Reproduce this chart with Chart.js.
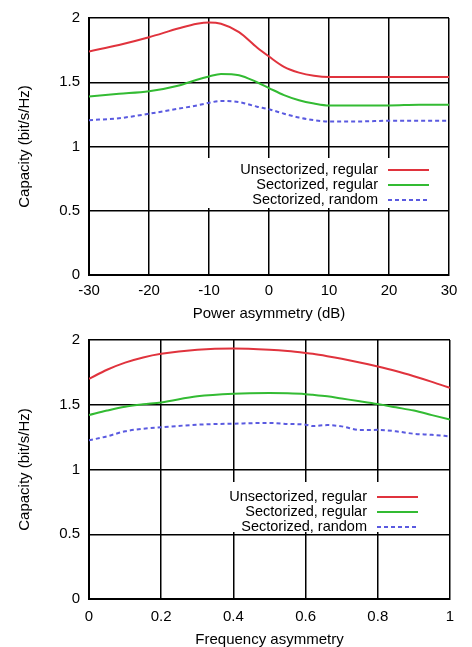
<!DOCTYPE html>
<html>
<head>
<meta charset="utf-8">
<script src="https://cdn.jsdelivr.net/npm/chart.js@4"></script>
<style>
  html, body { margin: 0; padding: 0; background: #fff; }
  body { width: 472px; height: 647px; position: relative; overflow: hidden; }
  .box { position: absolute; left: 0; width: 472px; }
</style>
</head>
<body>
<div class="box" style="top:0;height:322px"><canvas id="powerChart" width="472" height="322"></canvas></div>
<div class="box" style="top:322px;height:325px"><canvas id="freqChart" width="472" height="325"></canvas></div>
<script>
// series labels
const seriesNames = ["Unsectorized, regular", "Sectorized, regular", "Sectorized, random"];

// power asymmetry (dB)
const powerX = [-30, -25, -20, -15, -12, -10, -8, -5, -2, 0, 2.5, 5, 7.5, 10, 15, 20, 25, 30];
const powerUnsecReg = [1.74, 1.79, 1.85, 1.92, 1.955, 1.965, 1.955, 1.89, 1.77, 1.70, 1.62, 1.575, 1.55, 1.54, 1.54, 1.54, 1.54, 1.54];
const powerSecReg = [1.39, 1.41, 1.43, 1.475, 1.52, 1.545, 1.565, 1.555, 1.50, 1.455, 1.40, 1.36, 1.335, 1.32, 1.32, 1.32, 1.325, 1.325];
const powerSecRand = [1.205, 1.22, 1.255, 1.295, 1.32, 1.34, 1.355, 1.345, 1.31, 1.29, 1.255, 1.225, 1.205, 1.195, 1.195, 1.2, 1.2, 1.2];

// frequency asymmetry
const freqX = [0, 0.05, 0.1, 0.15, 0.2, 0.3, 0.4, 0.5, 0.55, 0.6, 0.62, 0.66, 0.7, 0.75, 0.8, 0.85, 0.9, 0.95, 1];
const freqUnsecReg = [1.70, 1.77, 1.825, 1.865, 1.893, 1.925, 1.935, 1.925, 1.915, 1.90, 1.893, 1.875, 1.855, 1.827, 1.795, 1.76, 1.72, 1.677, 1.63];
const freqSecReg = [1.42, 1.455, 1.485, 1.503, 1.518, 1.565, 1.585, 1.59, 1.588, 1.582, 1.577, 1.565, 1.548, 1.527, 1.505, 1.48, 1.455, 1.42, 1.385];
const freqSecRand = [1.225, 1.256, 1.295, 1.315, 1.326, 1.346, 1.354, 1.36, 1.352, 1.346, 1.335, 1.343, 1.333, 1.305, 1.306, 1.295, 1.276, 1.268, 1.256];

// tick labels
const yTicks = [0, 0.5, 1, 1.5, 2];
const powerTicks = [-30, -20, -10, 0, 10, 20, 30];
const freqTicks = [0, 0.2, 0.4, 0.6, 0.8, 1];

const FONT = "'Liberation Sans', Arial, sans-serif";
const INK = "#000";
const styles = [
  { color: "#e0333d", dash: [] },
  { color: "#33bb33", dash: [] },
  { color: "#5a5ae0", dash: [4, 3] }
];

function pts(xs, ys) {
  return xs.map((x, i) => ({ x: x, y: ys[i] }));
}

// gnuplot-like key: text on the left, sample line on the right, opaque box
const keyPlugin = {
  id: "gnuKey",
  afterDraw(chart) {
    const k = chart.options.plugins.gnuKey;
    if (!k) return;
    const ctx = chart.ctx;
    ctx.save();
    ctx.fillStyle = "#fff";
    ctx.fillRect(k.box[0], k.box[1], k.box[2], k.box[3]);
    ctx.font = k.size + "px " + FONT;
    ctx.textAlign = "right";
    ctx.textBaseline = "middle";
    chart.data.datasets.forEach((ds, i) => {
      const y = k.rows[i];
      ctx.fillStyle = INK;
      ctx.fillText(ds.label, k.textRight, y);
      ctx.strokeStyle = ds.borderColor;
      ctx.lineWidth = ds.borderWidth;
      ctx.setLineDash(ds.borderDash || []);
      ctx.beginPath();
      ctx.moveTo(k.line[0], y);
      ctx.lineTo(k.line[1], y);
      ctx.stroke();
      ctx.setLineDash([]);
    });
    ctx.restore();
  }
};

function makeChart(id, xs, series, xTicks, xTitle, cfg) {
  const datasets = series.map((ys, i) => ({
    label: seriesNames[i],
    data: pts(xs, ys),
    borderColor: styles[i].color,
    borderDash: styles[i].dash,
    borderWidth: 2,
    pointRadius: 0,
    fill: false,
    tension: 0.4,
    cubicInterpolationMode: "monotone"
  }));

  new Chart(document.getElementById(id), {
    type: "line",
    data: { datasets: datasets },
    plugins: [keyPlugin],
    options: {
      responsive: false,
      animation: false,
      layout: { padding: { left: 0, right: cfg.right, top: cfg.top, bottom: 0 } },
      plugins: {
        legend: { display: false },
        tooltip: { enabled: false },
        gnuKey: cfg.key
      },
      scales: {
        x: {
          type: "linear",
          min: xTicks[0],
          max: xTicks[xTicks.length - 1],
          afterBuildTicks: (s) => { s.ticks = xTicks.map((v) => ({ value: v })); },
          afterFit: (s) => { s.height = cfg.xHeight; },
          ticks: {
            autoSkip: false,
            maxRotation: 0,
            padding: cfg.tickPad,
            color: INK,
            font: { family: FONT, size: 15 },
            callback: (v) => String(v)
          },
          grid: { color: "#000", lineWidth: 1.5, drawTicks: false },
          border: { color: "#000", width: 2 },
          title: {
            display: true,
            text: xTitle,
            color: INK,
            font: { family: FONT, size: 15 },
            padding: { top: 0, bottom: cfg.xTitlePad }
          }
        },
        y: {
          min: 0,
          max: 2,
          afterBuildTicks: (s) => { s.ticks = yTicks.map((v) => ({ value: v })); },
          afterFit: (s) => { s.width = 89; },
          ticks: {
            padding: 9,
            color: INK,
            font: { family: FONT, size: 15 },
            callback: (v) => String(v)
          },
          grid: { color: "#000", lineWidth: 1.5, drawTicks: false },
          border: { color: "#000", width: 2 },
          title: {
            display: true,
            text: "Capacity (bit/s/Hz)",
            color: INK,
            font: { family: FONT, size: 15 },
            padding: { top: 16, bottom: 0 }
          }
        }
      }
    }
  });
}

makeChart("powerChart", powerX, [powerUnsecReg, powerSecReg, powerSecRand], powerTicks, "Power asymmetry (dB)", {
  right: 23, top: 15, xHeight: 47, xTitlePad: -1, tickPad: 7,
  key: { box: [200, 158, 240, 50], textRight: 378, line: [388, 429], rows: [170, 185, 200], size: 14.5 }
});

makeChart("freqChart", freqX, [freqUnsecReg, freqSecReg, freqSecRand], freqTicks, "Frequency asymmetry", {
  right: 22, top: 18, xHeight: 48, xTitlePad: -2, tickPad: 9,
  key: { box: [175, 160, 255, 50], textRight: 367, line: [377, 418], rows: [175, 190, 205], size: 14.5 }
});
</script>
</body>
</html>
